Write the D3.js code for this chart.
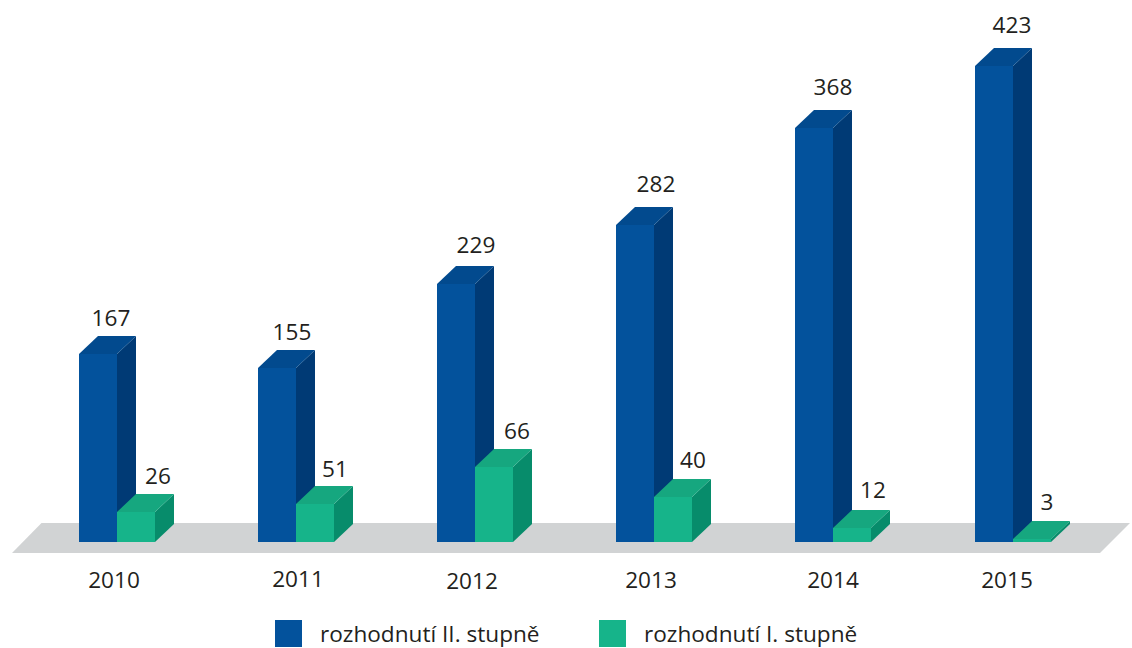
<!DOCTYPE html>
<html><head><meta charset="utf-8">
<script src="https://cdn.jsdelivr.net/npm/d3@7"></script>
<style>html,body{margin:0;background:#fff}svg{display:block}text{font-family:"Open Sans","Noto Sans",sans-serif;fill:#231f20}</style>
</head><body><svg id="c" width="1132" height="648"></svg>
<script>
const years = ["2010","2011","2012","2013","2014","2015"];
const secondDegree = [167,155,229,282,368,423];
const firstDegree = [26,51,66,40,12,3];
// Height as actually drawn in the picture: the 2011 green bar is shorter than its printed label of 51.
const firstDegreeDrawn = [27,34,67,40,12,3];
const seriesNames = ["rozhodnutí II. stupně","rozhodnutí I. stupně"];

const W=38, DX=19, DY=18, BASE=542, FS=22.6;
const svg=d3.select("#c");
const xs=d3.scalePoint().domain(years).range([117,1013]);
const x=d=>Math.floor(xs(d));
const ys=d3.scaleLinear().domain([0,423]).range([BASE,66]);
const y=v=>Math.round(ys(v));

svg.append("polygon").attr("points","12,553 41.5,523 1130,523 1100,553").attr("fill","#d1d3d4");

function bar(x0,val,front,top,side){
  const t=y(val), g=svg.append("g");
  g.append("polygon").attr("fill",side).attr("points",[[x0+W,t],[x0+W+DX,t-DY],[x0+W+DX,BASE-DY],[x0+W,BASE]].join(" "));
  g.append("polygon").attr("fill",top).attr("points",[[x0,t],[x0+DX,t-DY],[x0+W+DX,t-DY],[x0+W,t]].join(" "));
  g.append("rect").attr("x",x0).attr("y",t).attr("width",W).attr("height",BASE-t).attr("fill",front);
}
years.forEach((yr,i)=>bar(x(yr)-W,secondDegree[i],"#03529c","#024a8e","#003a75"));
years.forEach((yr,i)=>bar(x(yr),firstDegreeDrawn[i],"#16b48a","#16a77f","#078c6b"));

const label=(t,cx,by)=>svg.append("text").attr("x",cx).attr("y",by).attr("text-anchor","middle").attr("font-size",FS).text(t);
const blueNudge=[[-6,-28],[-4,-28],[1,-31],[2,-33],[0,-33],[-1,-33]];
const greenNudge=[[3,-28],[1,-27],[4,-28],[1,-29],[2,-30],[-4,-29]];
const yearNudge=[[-3,588],[2,587],[-3,589],[-3,588],[0,588],[-6,588]];
years.forEach((yr,i)=>{
  label(secondDegree[i],x(yr)+blueNudge[i][0],y(secondDegree[i])+blueNudge[i][1]);
  label(firstDegree[i],x(yr)+38+greenNudge[i][0],y(firstDegreeDrawn[i])+greenNudge[i][1]);
  label(yr,x(yr)+yearNudge[i][0],yearNudge[i][1]);
});

[[275,320,"#03529c"],[599,644,"#16b48a"]].forEach((l,i)=>{
  svg.append("rect").attr("x",l[0]).attr("y",620).attr("width",27).attr("height",27).attr("fill",l[2]);
  svg.append("text").attr("x",l[1]).attr("y",642).attr("font-size",FS).text(seriesNames[i]);
});
</script></body></html>
